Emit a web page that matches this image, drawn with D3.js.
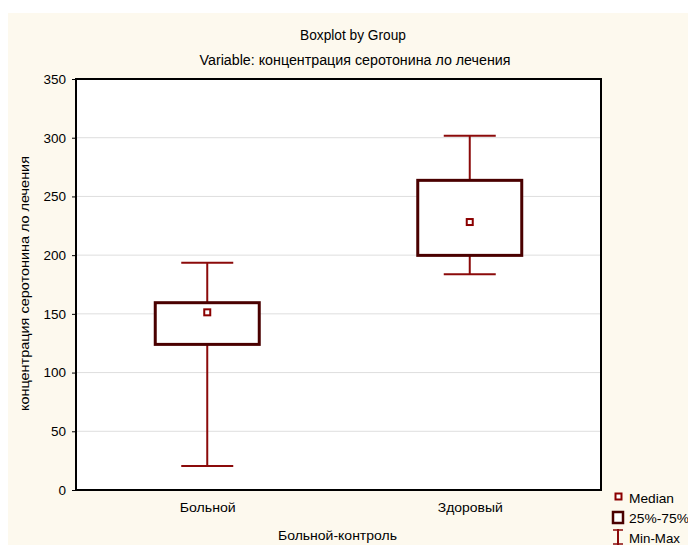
<!DOCTYPE html>
<html>
<head>
<meta charset="utf-8">
<script src="https://cdn.jsdelivr.net/npm/d3@7"></script>
<style>
  html, body { margin: 0; padding: 0; background: #ffffff; }
  svg text { font-family: "Liberation Sans", Arial, sans-serif; fill: #000; }
</style>
</head>
<body>
<svg id="chart" width="688" height="545"></svg>
<script>
// Serotonin concentration by group: min, quartiles, median, max
const groups   = ["Больной", "Здоровый"];
const minVals  = [20.4, 183.7];
const q1Vals   = [124.0, 199.8];
const medVals  = [151.3, 228.2];
const q3Vals   = [159.5, 263.7];
const maxVals  = [193.5, 301.7];
const yTicks   = [0, 50, 100, 150, 200, 250, 300, 350];

const data = groups.map((g, i) => ({
  group: g, min: minVals[i], q1: q1Vals[i], med: medVals[i], q3: q3Vals[i], max: maxVals[i]
}));

const W = 688, H = 545;
const plot = { left: 76, top: 79, right: 601, bottom: 490 };

const svg = d3.select("#chart");

// condensed text helper: fixes the rendered width of a label
function label(sel, x, y, txt, width, anchor = "middle", size = 13) {
  return sel.append("text").attr("x", x).attr("y", y).attr("text-anchor", anchor)
    .attr("font-size", size).attr("textLength", width).attr("lengthAdjust", "spacingAndGlyphs")
    .text(txt);
}

// cream panel background
svg.append("rect").attr("x", 8).attr("y", 13).attr("width", W - 8).attr("height", H - 13)
  .attr("fill", "#fdf9ee");

const x = d3.scalePoint().domain(groups).range([plot.left, plot.right]).padding(0.5);
const y = d3.scaleLinear().domain([0, 350]).range([plot.bottom, plot.top]);

// plot area
svg.append("rect").attr("x", plot.left).attr("y", plot.top)
  .attr("width", plot.right - plot.left).attr("height", plot.bottom - plot.top)
  .attr("fill", "#ffffff");

// horizontal grid
svg.append("g").selectAll("line").data(yTicks.slice(1, -1)).join("line")
  .attr("x1", plot.left).attr("x2", plot.right)
  .attr("y1", d => y(d)).attr("y2", d => y(d))
  .attr("stroke", "#dedede").attr("stroke-width", 1);

// y axis
const yAxis = d3.axisLeft(y).tickValues(yTicks).tickSize(4).tickPadding(6).tickFormat(d3.format("d"));
const gy = svg.append("g").attr("transform", `translate(${plot.left},0)`).call(yAxis);
gy.select(".domain").remove();
gy.selectAll(".tick line").attr("stroke", "#000");
gy.selectAll(".tick text").attr("font-size", 13.5).style("font-family", "'Liberation Sans', Arial, sans-serif");

// x axis labels
const catWidths = [56, 65];
const xAxis = d3.axisBottom(x).tickSize(0).tickPadding(12);
const gx = svg.append("g").attr("transform", `translate(0,${plot.bottom})`).call(xAxis);
gx.select(".domain").remove();
gx.selectAll(".tick text").attr("font-size", 13.5)
  .style("font-family", "'Liberation Sans', Arial, sans-serif")
  .attr("textLength", (d, i) => catWidths[i]).attr("lengthAdjust", "spacingAndGlyphs");

const boxW = 104, capW = 52;
const whiskerColor = "#8b0a0a", boxColor = "#4a0000";

const gb = svg.append("g").selectAll("g").data(data).join("g");
// whiskers
gb.append("line").attr("x1", d => x(d.group)).attr("x2", d => x(d.group))
  .attr("y1", d => y(d.max)).attr("y2", d => y(d.q3))
  .attr("stroke", whiskerColor).attr("stroke-width", 2);
gb.append("line").attr("x1", d => x(d.group)).attr("x2", d => x(d.group))
  .attr("y1", d => y(d.q1)).attr("y2", d => y(d.min))
  .attr("stroke", whiskerColor).attr("stroke-width", 2);
gb.append("line").attr("x1", d => x(d.group) - capW / 2).attr("x2", d => x(d.group) + capW / 2)
  .attr("y1", d => y(d.max)).attr("y2", d => y(d.max))
  .attr("stroke", whiskerColor).attr("stroke-width", 2);
gb.append("line").attr("x1", d => x(d.group) - capW / 2).attr("x2", d => x(d.group) + capW / 2)
  .attr("y1", d => y(d.min)).attr("y2", d => y(d.min))
  .attr("stroke", whiskerColor).attr("stroke-width", 2);
// boxes
gb.append("rect").attr("x", d => x(d.group) - boxW / 2).attr("width", boxW)
  .attr("y", d => y(d.q3)).attr("height", d => y(d.q1) - y(d.q3))
  .attr("fill", "#ffffff").attr("stroke", boxColor).attr("stroke-width", 3);
// median markers
gb.append("rect").attr("x", d => x(d.group) - 3).attr("y", d => y(d.med) - 3)
  .attr("width", 6).attr("height", 6)
  .attr("fill", "#ffffff").attr("stroke", "#8b0000").attr("stroke-width", 2);

// frame
svg.append("rect").attr("x", plot.left).attr("y", plot.top)
  .attr("width", plot.right - plot.left).attr("height", plot.bottom - plot.top)
  .attr("fill", "none").attr("stroke", "#000").attr("stroke-width", 2);

// titles
label(svg, 353, 40, "Boxplot by Group", 106, "middle", 14);
label(svg, 355, 64.5, "Variable: концентрация серотонина ло лечения", 311, "middle", 14);
label(svg, 337.5, 540, "Больной-контроль", 119, "middle", 13.5);
svg.append("text").attr("transform", "translate(29,283.5) rotate(-90)").attr("text-anchor", "middle")
  .attr("font-size", 13.5).attr("textLength", 255).attr("lengthAdjust", "spacingAndGlyphs")
  .text("концентрация серотонина ло лечения");

// legend
const lg = svg.append("g");
lg.append("rect").attr("x", 615.5).attr("y", 493.5).attr("width", 6).attr("height", 6)
  .attr("fill", "#fff").attr("stroke", "#8b0000").attr("stroke-width", 2);
label(lg, 629, 503, "Median", 45, "start", 13.5);
lg.append("rect").attr("x", 613).attr("y", 512).attr("width", 10).attr("height", 11)
  .attr("fill", "#fff").attr("stroke", boxColor).attr("stroke-width", 2.5);
label(lg, 629, 523, "25%-75%", 60, "start", 13.5);
lg.append("line").attr("x1", 618).attr("x2", 618).attr("y1", 529).attr("y2", 545)
  .attr("stroke", whiskerColor).attr("stroke-width", 2);
lg.append("line").attr("x1", 613).attr("x2", 623).attr("y1", 530).attr("y2", 530)
  .attr("stroke", whiskerColor).attr("stroke-width", 1.5);
lg.append("line").attr("x1", 613).attr("x2", 623).attr("y1", 544).attr("y2", 544)
  .attr("stroke", whiskerColor).attr("stroke-width", 1.5);
label(lg, 629, 543, "Min-Max", 51, "start", 13.5);
</script>
</body>
</html>
